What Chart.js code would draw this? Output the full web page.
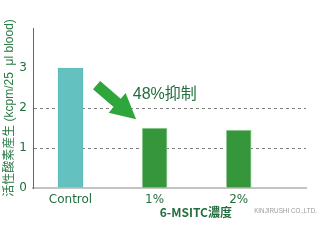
<!DOCTYPE html>
<html>
<head>
<meta charset="utf-8">
<script src="https://cdn.jsdelivr.net/npm/chart.js@4/dist/chart.umd.min.js"></script>
<style>
  html, body { margin: 0; padding: 0; background: #fff; }
  #wrap { width: 320px; height: 240px; }
</style>
</head>
<body>
<div id="wrap"><canvas id="c" width="320" height="240"></canvas></div>
<script>
// 活性酸素産生 (kcpm/25 μl blood)
const categories = ['Control', '1%', '2%'];
const values = [3.0, 1.5, 1.45];
const barColors = ['#63c1bf', '#35963b', '#35963b'];
const barBorders = ['#5cbab8', '#a3d3a6', '#a3d3a6'];
const yTicks = [0, 1, 2, 3];
const dashedAt = [1, 2];

const textGreen = '#236e3f';

// 矢印と「48%抑制」の位置（データ座標）
const arrowTail = { x: 0.31, y: 2.57 };
const arrowTip = { x: 0.78, y: 1.72 };
const noteText = '48%抑制';
const notePos = { x: 0.74, y: 2.33 };

const overlay = {
    id: 'overlay',
    afterDraw(chart) {
        const ctx = chart.ctx;
        const xs = chart.scales.x, ys = chart.scales.y;
        const area = chart.chartArea;

        // 矢印
        const tx = xs.getPixelForValue(arrowTail.x), ty = ys.getPixelForValue(arrowTail.y);
        const hx = xs.getPixelForValue(arrowTip.x), hy = ys.getPixelForValue(arrowTip.y);
        const len = Math.hypot(hx - tx, hy - ty);
        const ux = (hx - tx) / len, uy = (hy - ty) / len;
        const nx = -uy, ny = ux;
        const headLen = 25, headHalf = 13, shaftHalf = 5.5;
        const bx = hx - ux * headLen, by = hy - uy * headLen;
        ctx.save();
        ctx.fillStyle = '#2ea63b';
        ctx.beginPath();
        ctx.moveTo(tx + nx * shaftHalf, ty + ny * shaftHalf);
        ctx.lineTo(bx + nx * shaftHalf, by + ny * shaftHalf);
        ctx.lineTo(bx + nx * headHalf, by + ny * headHalf);
        ctx.lineTo(hx, hy);
        ctx.lineTo(bx - nx * headHalf, by - ny * headHalf);
        ctx.lineTo(bx - nx * shaftHalf, by - ny * shaftHalf);
        ctx.lineTo(tx - nx * shaftHalf, ty - ny * shaftHalf);
        ctx.closePath();
        ctx.fill();

        // 48%抑制
        ctx.fillStyle = textGreen;
        ctx.font = '16px "Liberation Sans", "Noto Sans CJK JP", sans-serif';
        ctx.textAlign = 'left';
        ctx.textBaseline = 'middle';
        ctx.fillText(noteText, xs.getPixelForValue(notePos.x), ys.getPixelForValue(notePos.y));

        // x軸タイトル
        ctx.font = 'bold 12px "Liberation Sans Narrow", "Noto Sans CJK JP", sans-serif';
        ctx.textAlign = 'center';
        ctx.fillText('6-MSITC濃度', xs.getPixelForValue(1.49), area.bottom + 24);

        // 社名
        ctx.fillStyle = '#9a9a9a';
        ctx.font = '6.3px "Liberation Sans Narrow", sans-serif';
        ctx.textAlign = 'right';
        ctx.fillText('KINJIRUSHI CO.,LTD.', 317, area.bottom + 23);
        ctx.restore();
    }
};

new Chart(document.getElementById('c'), {
    type: 'bar',
    data: {
        datasets: [{
            data: values.map((v, i) => ({ x: i, y: v })),
            backgroundColor: barColors,
            borderColor: barBorders,
            borderWidth: 1,
            barThickness: 25
        }]
    },
    options: {
        responsive: false,
        animation: false,
        layout: { padding: { top: 28, right: 14, left: 0, bottom: 0 } },
        plugins: { legend: { display: false }, tooltip: { enabled: false } },
        scales: {
            x: {
                type: 'linear',
                offset: false,
                min: -0.446,
                max: 2.8,
                afterFit: s => { s.height = 52; },
                grid: { display: false },
                border: { display: true, color: '#c4c4c4', width: 2 },
                ticks: {
                    stepSize: 1,
                    includeBounds: false,
                    padding: -3,
                    color: textGreen,
                    font: { family: '"DejaVu Sans", sans-serif', size: 12 },
                    callback: v => Number.isInteger(v) ? categories[v] : ''
                }
            },
            y: {
                min: 0,
                max: 4,
                afterFit: s => { s.width = 33; },
                afterBuildTicks: s => { s.ticks = yTicks.concat([4]).map(v => ({ value: v })); },
                grid: {
                    drawTicks: false,
                    color: c => dashedAt.includes(c.tick.value) ? '#808080' : 'transparent',
                    lineWidth: 1
                },
                border: { display: true, color: '#666', width: 1, dash: [3, 3] },
                ticks: {
                    padding: 6,
                    color: textGreen,
                    font: { family: '"DejaVu Sans", sans-serif', size: 12 },
                    callback: v => yTicks.includes(v) ? v : ''
                },
                title: {
                    display: true,
                    text: '活性酸素産生 (kcpm/25  μl blood)',
                    color: '#2a7a45',
                    padding: { top: 2, bottom: 0 },
                    font: { family: '"Liberation Sans", "Noto Sans CJK JP", sans-serif', size: 12 }
                }
            }
        }
    },
    plugins: [overlay]
});
</script>
</body>
</html>
